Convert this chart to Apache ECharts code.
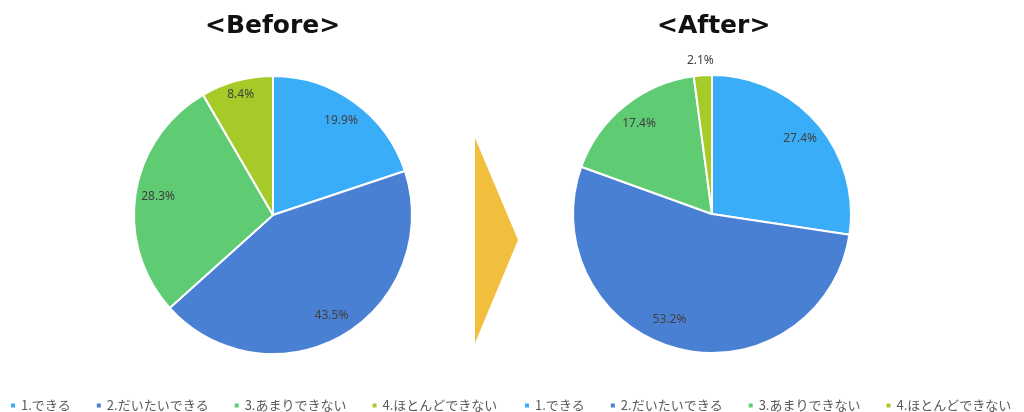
<!DOCTYPE html>
<html>
<head>
<meta charset="utf-8">
<script src="https://cdn.jsdelivr.net/npm/echarts@6/dist/echarts.min.js"></script>
<style>
  html, body { margin: 0; padding: 0; background: #fff; }
  #chart { width: 1024px; height: 412px; }
</style>
</head>
<body>
<div id="chart"></div>
<script>
const categories = ["1.できる", "2.だいたいできる", "3.あまりできない", "4.ほとんどできない"];
const beforeValues = [19.9, 43.5, 28.3, 8.4];
const afterValues = [27.4, 53.2, 17.4, 2.1];
const titles = ["<Before>", "<After>"];

const colors = ["#3AADF9", "#4A80D3", "#5FCB73", "#A6CA28"];
const R = 139;

const chart = echarts.init(document.getElementById("chart"));

const toData = (values) => values.map((v, i) => ({ name: categories[i], value: v }));

// base pie: slices only
const basePie = (values, center) => ({
  type: "pie",
  center,
  radius: [0, R],
  startAngle: 90,
  clockwise: true,
  silent: true,
  data: toData(values),
  itemStyle: { borderColor: "#fff", borderWidth: 2 },
  label: { show: false },
  labelLine: { show: false },
});

// transparent ring on top so "inside" labels sit ~0.82r out
const labelRing = (values, center, tweak) => ({
  type: "pie",
  center,
  radius: [R * 0.63, R],
  startAngle: 90,
  clockwise: true,
  silent: true,
  data: toData(values).map((d, i) => tweak && tweak[i] ? { ...d, label: tweak[i] } : d),
  itemStyle: { color: "transparent" },
  label: {
    show: true,
    position: "inside",
    formatter: (p) => p.value + "%",
    fontFamily: "Noto Sans",
    fontSize: 12,
    color: "#404040",
  },
  labelLine: { show: false },
});

const legendBase = {
  data: categories,
  top: 394,
  icon: "rect",
  itemWidth: 6,
  itemHeight: 6,
  itemGap: 24,
  textStyle: { fontFamily: "Noto Sans CJK JP", fontSize: 13, color: "#595959" },
};

chart.setOption({
  color: colors,
  animation: false,
  legend: [
    { ...legendBase, left: 4 },
    { ...legendBase, left: 518 },
  ],
  series: [
    basePie(beforeValues, [273, 215]),
    basePie(afterValues, [712, 214]),
    labelRing(beforeValues, [273, 215], { 3: { offset: [-2, -8] } }),
    labelRing(afterValues, [712, 214], { 1: { offset: [-14, -7] }, 3: { offset: [-4, -37] } }),
  ],
  graphic: [
    {
      type: "text",
      left: 205,
      top: 14,
      style: { text: titles[0], font: "bold 25px 'DejaVu Sans'", fill: "#111" },
    },
    {
      type: "text",
      left: 657,
      top: 14,
      style: { text: titles[1], font: "bold 25px 'DejaVu Sans'", fill: "#111" },
    },
    {
      type: "polygon",
      shape: { points: [[475, 138], [518, 240], [475, 343]] },
      style: { fill: "#F2BE3E" },
    },
  ],
});
</script>
</body>
</html>
